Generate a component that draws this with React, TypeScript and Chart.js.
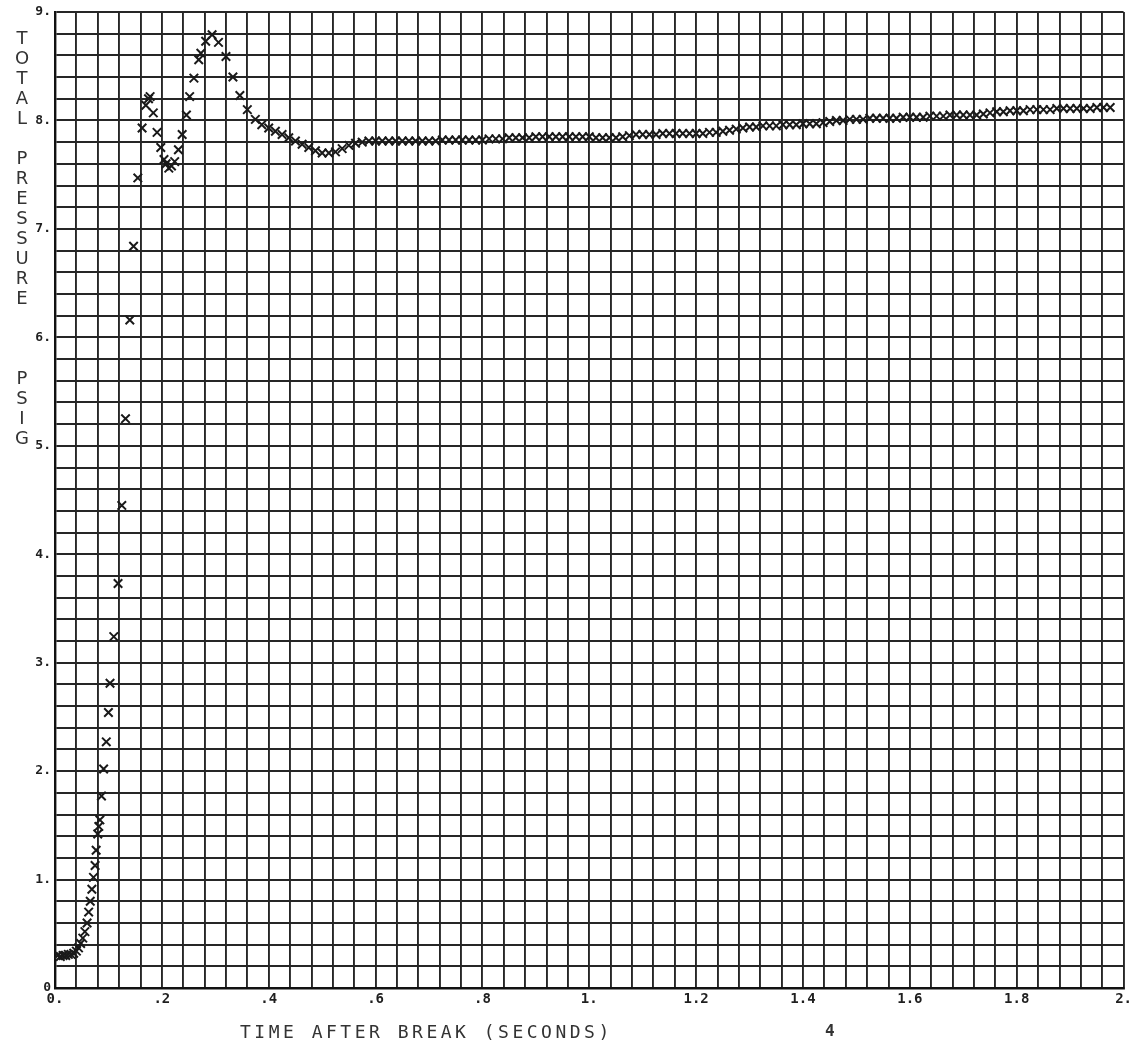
import React, { useEffect, useRef } from "react";
import { Chart, registerables } from "chart.js";

Chart.register(...registerables);

// Time after break (seconds)
const timeSec: number[] = [
  0.005, 0.01, 0.015, 0.02, 0.025, 0.03, 0.035, 0.04, 0.044, 0.048,
  0.052, 0.056, 0.06, 0.063, 0.066, 0.069, 0.072, 0.075, 0.077, 0.08,
  0.082, 0.084, 0.087, 0.091, 0.096, 0.1, 0.103, 0.11, 0.118, 0.125,
  0.132, 0.14, 0.147, 0.155, 0.163, 0.17, 0.175, 0.178, 0.184, 0.191,
  0.198, 0.204, 0.208, 0.213, 0.218, 0.224, 0.231, 0.238, 0.246, 0.252,
  0.26, 0.269, 0.273, 0.282, 0.294, 0.306, 0.32, 0.333, 0.346, 0.36,
  0.375, 0.387,
  0.4, 0.4125, 0.425, 0.4375, 0.45, 0.4625, 0.475, 0.4875, 0.5, 0.5125,
  0.525, 0.5375, 0.55, 0.5625, 0.575, 0.5875, 0.6, 0.6125, 0.625, 0.6375,
  0.65, 0.6625, 0.675, 0.6875, 0.7, 0.7125, 0.725, 0.7375, 0.75, 0.7625,
  0.775, 0.7875, 0.8, 0.8125, 0.825, 0.8375, 0.85, 0.8625, 0.875, 0.8875,
  0.9, 0.9125, 0.925, 0.9375, 0.95, 0.9625, 0.975, 0.9875, 1.0, 1.0125,
  1.025, 1.0375, 1.05, 1.0625, 1.075, 1.0875, 1.1, 1.1125, 1.125, 1.1375,
  1.15, 1.1625, 1.175, 1.1875, 1.2, 1.2125, 1.225, 1.2375, 1.25, 1.2625,
  1.275, 1.2875, 1.3, 1.3125, 1.325, 1.3375, 1.35, 1.3625, 1.375, 1.3875,
  1.4, 1.4125, 1.425, 1.4375, 1.45, 1.4625, 1.475, 1.4875, 1.5, 1.5125,
  1.525, 1.5375, 1.55, 1.5625, 1.575, 1.5875, 1.6, 1.6125, 1.625, 1.6375,
  1.65, 1.6625, 1.675, 1.6875, 1.7, 1.7125, 1.725, 1.7375, 1.75, 1.7625,
  1.775, 1.7875, 1.8, 1.8125, 1.825, 1.8375, 1.85, 1.8625, 1.875, 1.8875,
  1.9, 1.9125, 1.925, 1.9375, 1.95, 1.9625, 1.975,
];

// Total pressure (psig)
const pressurePsig: number[] = [
  0.3, 0.29, 0.3, 0.3, 0.31, 0.31, 0.32, 0.34, 0.37, 0.41,
  0.46, 0.52, 0.6, 0.7, 0.8, 0.91, 1.02, 1.13, 1.27, 1.42,
  1.49, 1.55, 1.77, 2.02, 2.27, 2.54, 2.81, 3.24, 3.73, 4.45,
  5.25, 6.16, 6.84, 7.47, 7.93, 8.14, 8.2, 8.22, 8.07, 7.89,
  7.75, 7.64, 7.6, 7.56, 7.58, 7.62, 7.73, 7.87, 8.05, 8.22,
  8.39, 8.56, 8.62, 8.73, 8.79, 8.72, 8.59, 8.4, 8.23, 8.1,
  8.01, 7.96,
  7.93, 7.9, 7.87, 7.84, 7.81, 7.78, 7.75, 7.72, 7.7, 7.7,
  7.71, 7.74, 7.77, 7.79, 7.8, 7.81, 7.81, 7.81, 7.81, 7.81,
  7.81, 7.81, 7.81, 7.81, 7.81, 7.81, 7.82, 7.82, 7.82, 7.82,
  7.82, 7.82, 7.82, 7.83, 7.83, 7.83, 7.84, 7.84, 7.84, 7.84,
  7.85, 7.85, 7.85, 7.85, 7.85, 7.85, 7.85, 7.85, 7.85, 7.84,
  7.84, 7.84, 7.84, 7.85, 7.86, 7.87, 7.87, 7.87, 7.87, 7.88,
  7.88, 7.88, 7.88, 7.88, 7.88, 7.88, 7.89, 7.89, 7.9, 7.91,
  7.92, 7.93, 7.94, 7.94, 7.95, 7.95, 7.95, 7.96, 7.96, 7.96,
  7.97, 7.97, 7.97, 7.98, 7.99, 8.0, 8.0, 8.01, 8.01, 8.01,
  8.02, 8.02, 8.02, 8.02, 8.02, 8.03, 8.03, 8.03, 8.03, 8.04,
  8.04, 8.04, 8.05, 8.05, 8.05, 8.05, 8.05, 8.06, 8.07, 8.08,
  8.08, 8.09, 8.09, 8.09, 8.1, 8.1, 8.1, 8.1, 8.11, 8.11,
  8.11, 8.11, 8.11, 8.11, 8.12, 8.12, 8.12,
];

const xLabelValues: number[] = [0, 0.2, 0.4, 0.6, 0.8, 1, 1.2, 1.4, 1.6, 1.8, 2];
const xLabelTexts: string[] = ["0.", ".2", ".4", ".6", ".8", "1.", "1.2", "1.4", "1.6", "1.8", "2."];
const yLabelValues: number[] = [0, 1, 2, 3, 4, 5, 6, 7, 8, 9];
const yLabelTexts: string[] = ["0", "1.", "2.", "3.", "4.", "5.", "6.", "7.", "8.", "9."];

const yTitleLines: string[] = ["TOTAL", "", "PRESSURE", "", "", "", "PSIG"];
const xTitle = "TIME AFTER BREAK (SECONDS)";
const pageNumber = "4";

const INK = "#262626";

export default function App() {
  const canvasRef = useRef<HTMLCanvasElement | null>(null);

  useEffect(() => {
    document.body.style.margin = "0";
    document.body.style.background = "#ffffff";
    const canvas = canvasRef.current;
    if (!canvas) return;

    const points = timeSec.map((t, i) => ({ x: t, y: pressurePsig[i] }));

    const findLabel = (v: number, vals: number[], texts: string[]) => {
      for (let i = 0; i < vals.length; i++) {
        if (Math.abs(vals[i] - v) < 1e-6) return texts[i];
      }
      return "";
    };

    const chart = new Chart(canvas, {
      type: "scatter",
      data: {
        datasets: [
          {
            data: points,
            pointStyle: "crossRot",
            pointRadius: 6,
            pointBorderWidth: 2,
            pointBorderColor: "#1a1a1a",
            pointBackgroundColor: "#1a1a1a",
            showLine: false,
          },
        ],
      },
      options: {
        animation: false,
        responsive: false,
        maintainAspectRatio: false,
        devicePixelRatio: 1,
        layout: { padding: { left: 0, right: 6, top: 12, bottom: 0 } },
        plugins: {
          legend: { display: false },
          tooltip: { enabled: false },
          title: { display: false },
        },
        scales: {
          x: {
            type: "linear",
            min: 0,
            max: 2,
            border: { display: true, color: "#111", width: 2.4 },
            grid: { color: INK, lineWidth: 1.9, drawTicks: false },
            ticks: {
              stepSize: 0.04,
              autoSkip: false,
              maxRotation: 0,
              padding: 3,
              color: "#1f1f1f",
              font: { family: "DejaVu Sans Mono", size: 14, weight: "bold" },
              callback: (v: any) => findLabel(Number(v), xLabelValues, xLabelTexts),
            },
            afterFit: (scale: any) => {
              scale.height = 60;
            },
          },
          y: {
            type: "linear",
            min: 0,
            max: 9,
            border: { display: true, color: "#111", width: 2.4 },
            grid: { color: INK, lineWidth: 1.9, drawTicks: false },
            ticks: {
              stepSize: 0.2,
              autoSkip: false,
              padding: 4,
              color: "#1f1f1f",
              font: { family: "DejaVu Sans Mono", size: 13, weight: "bold" },
              callback: (v: any) => findLabel(Number(v), yLabelValues, yLabelTexts),
            },
            afterFit: (scale: any) => {
              scale.width = 55;
            },
          },
        },
      },
    });

    return () => {
      chart.destroy();
    };
  }, []);

  const letterStyle: React.CSSProperties = {
    height: 20,
    lineHeight: "20px",
    textAlign: "center",
  };

  return (
    <div style={{ position: "relative", width: 1135, height: 1048, background: "#fff" }}>
      <canvas ref={canvasRef} width={1135} height={1048} style={{ display: "block" }} />
      <div
        style={{
          position: "absolute",
          left: 12,
          top: 28,
          width: 20,
          fontFamily: "DejaVu Sans",
          fontSize: 18,
          color: "#333",
        }}
      >
        {yTitleLines.map((line, li) =>
          line === "" ? (
            <div key={"g" + li} style={letterStyle}>
              {"\u00a0"}
            </div>
          ) : (
            line.split("").map((ch, ci) => (
              <div key={li + "-" + ci} style={letterStyle}>
                {ch}
              </div>
            ))
          )
        )}
      </div>
      <div
        style={{
          position: "absolute",
          left: 240,
          top: 1021,
          fontFamily: "DejaVu Sans Mono",
          fontSize: 18,
          letterSpacing: "3.5px",
          color: "#333",
          whiteSpace: "pre",
        }}
      >
        {xTitle}
      </div>
      <div
        style={{
          position: "absolute",
          left: 825,
          top: 1021,
          fontFamily: "DejaVu Sans Mono",
          fontSize: 16,
          fontWeight: "bold",
          color: "#333",
        }}
      >
        {pageNumber}
      </div>
    </div>
  );
}
